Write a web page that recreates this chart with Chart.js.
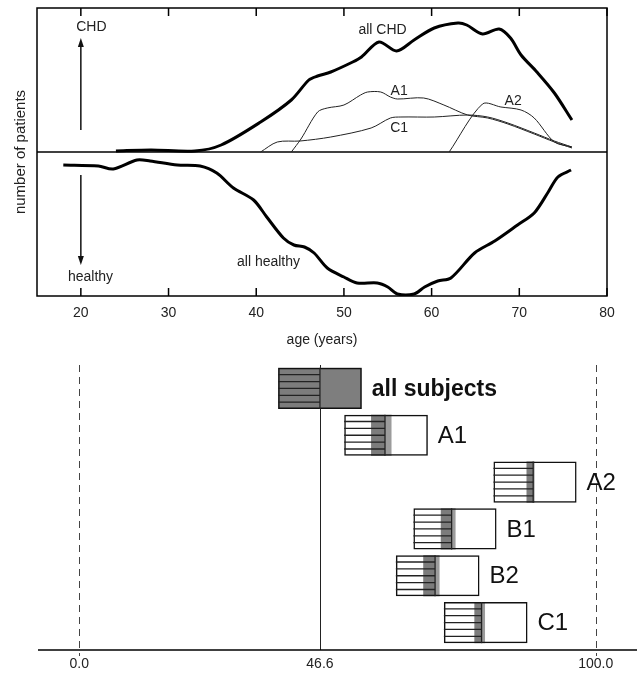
<!DOCTYPE html>
<html lang="en">
<head>
<meta charset="UTF-8">
<title>CHD and healthy subjects by age</title>
<script src="https://cdn.jsdelivr.net/npm/chart.js"></script>
<style>
  body { margin: 0; background: #fff; }
  #wrap { position: relative; width: 637px; height: 673px; }
  #ageChart { position: absolute; left: 0; top: 0; }
  #boxChart { position: absolute; left: 0; top: 350px; }
</style>
</head>
<body>
<div id="wrap">
  <canvas id="ageChart" width="637" height="350"></canvas>
  <canvas id="boxChart" width="637" height="323"></canvas>
</div>
<script>
// ---- top panel: number of patients by age (arbitrary units, healthy drawn negative)
const ageTicks = [20, 30, 40, 50, 60, 70, 80];

const allChdAge = [24, 28, 33, 36, 40.5, 44, 46, 47, 48.5, 51, 52, 54, 56, 58, 60.3, 63, 64, 65.8, 67.7, 69, 70.2, 72, 74, 76];
const allChdVal = [1, 2, 1, 7, 30, 52, 72, 76, 80, 90, 95, 110, 101, 112, 124, 129, 127, 118, 123, 114, 97, 80, 59, 32];

const healthyAge = [18, 22, 23.7, 26.4, 27.9, 31, 33.6, 35.5, 37.4, 39.7, 41.2, 43.1, 44.3, 45.5, 46.6, 48.1, 50, 51.5, 53.8, 55, 56.1, 58, 59.2, 60.7, 62.2, 64.9, 67.2, 69.8, 71.7, 73.3, 74.4, 75.9];
const healthyVal = [-13, -14, -17, -8, -9, -13, -14, -21, -36, -48, -65, -86, -93, -95, -101, -116, -125, -131, -131, -135, -142, -142, -135, -129, -126, -101, -89, -73, -61, -40, -25, -18];

const a1Age = [44, 45.1, 47, 48.1, 50, 51.9, 52.7, 54.2, 55.3, 56.1, 59.1, 61.4, 64.1, 66.4, 68.7, 71.7, 74, 76];
const a1Val = [0, 13, 40, 44, 47, 57, 60, 60, 55, 53, 54, 47, 37, 34, 28, 18, 10, 4];

const c1Age = [40.5, 42.4, 45, 48.5, 53.1, 55.3, 56.5, 60.3, 64.1, 66.4, 68.7, 71.7, 74, 76];
const c1Val = [0, 10, 11, 15, 24, 34, 35, 35, 37, 35, 29, 19, 11, 5];

const a2Age = [62, 65.8, 67.9, 70.2, 71.7, 74, 76];
const a2Val = [0, 48, 45, 42, 34, 10, 5];

// ---- bottom panel: age ranges per group
const groups = ['all subjects', 'A1', 'A2', 'B1', 'B2', 'C1'];
const rangeStart = [38.5, 51.3, 80.2, 64.7, 61.3, 70.6];
const whiteStripeEnd = [38.5, 56.5, 86.6, 70.0, 66.6, 76.5];
const grayStripeEnd = [46.6, 59.2, 87.9, 72.1, 68.9, 77.9];
const grayEnd = [54.7, 60.5, 88.2, 72.9, 69.8, 78.6];
const rangeEnd = [54.7, 67.5, 96.3, 80.8, 77.5, 86.8];
const dashedRefs = [0, 100];
const meanRef = 46.6;
const boxTicks = [0, 46.6, 100];

const FONT = '"Liberation Sans", Arial, sans-serif';
Chart.defaults.font.family = FONT;
Chart.defaults.color = '#222';

function pts(xs, ys) { return xs.map((v, i) => ({ x: v, y: ys[i] })); }

function arrow(ctx, x, y1, y2) {
  const dir = y2 < y1 ? -1 : 1;
  ctx.beginPath(); ctx.moveTo(x, y1); ctx.lineTo(x, y2 - dir * 6); ctx.stroke();
  ctx.beginPath();
  ctx.moveTo(x, y2); ctx.lineTo(x - 3, y2 - dir * 9); ctx.lineTo(x + 3, y2 - dir * 9);
  ctx.closePath(); ctx.fill();
}

const notes = [
  { text: 'all CHD', x: 54.4, y: 122 },
  { text: 'A1', x: 56.3, y: 61 },
  { text: 'C1', x: 56.3, y: 24 },
  { text: 'A2', x: 69.3, y: 51 },
  { text: 'all healthy', x: 41.4, y: -110 },
  { text: 'CHD', x: 21.2, y: 125 },
  { text: 'healthy', x: 21.1, y: -125 }
];

const ageDecor = {
  id: 'ageDecor',
  beforeDatasetsDraw(chart) {
    const { ctx, chartArea: a, scales: { x, y } } = chart;
    ctx.save();
    ctx.strokeStyle = '#000';
    ctx.lineWidth = 1.5;
    ctx.strokeRect(a.left, a.top, a.right - a.left, a.bottom - a.top);
    const y0 = y.getPixelForValue(0);
    ctx.beginPath(); ctx.moveTo(a.left, y0); ctx.lineTo(a.right, y0); ctx.stroke();
    x.ticks.forEach(t => {
      const px = x.getPixelForValue(t.value);
      ctx.beginPath();
      ctx.moveTo(px, a.top); ctx.lineTo(px, a.top + 8);
      ctx.moveTo(px, a.bottom); ctx.lineTo(px, a.bottom - 8);
      ctx.stroke();
    });
    ctx.restore();
  },
  afterDatasetsDraw(chart) {
    const { ctx, scales: { x, y } } = chart;
    ctx.save();
    ctx.strokeStyle = '#111'; ctx.fillStyle = '#111'; ctx.lineWidth = 1.5;
    const ax = x.getPixelForValue(20);
    arrow(ctx, ax, y.getPixelForValue(22), y.getPixelForValue(114));
    arrow(ctx, ax, y.getPixelForValue(-23), y.getPixelForValue(-113));
    ctx.font = '14px ' + FONT;
    ctx.fillStyle = '#222';
    ctx.textAlign = 'center'; ctx.textBaseline = 'middle';
    notes.forEach(n => ctx.fillText(n.text, x.getPixelForValue(n.x), y.getPixelForValue(n.y)));
    ctx.restore();
  }
};

const thick = { borderColor: '#000', borderWidth: 3, pointRadius: 0, tension: 0.3, fill: false };
const thin = { borderColor: '#222', borderWidth: 1, pointRadius: 0, tension: 0.3, fill: false };

new Chart(document.getElementById('ageChart'), {
  type: 'line',
  data: {
    datasets: [
      { label: 'all CHD', data: pts(allChdAge, allChdVal), ...thick },
      { label: 'all healthy', data: pts(healthyAge, healthyVal), ...thick },
      { label: 'A1', data: pts(a1Age, a1Val), ...thin },
      { label: 'C1', data: pts(c1Age, c1Val), ...thin },
      { label: 'A2', data: pts(a2Age, a2Val), ...thin }
    ]
  },
  options: {
    responsive: false,
    animation: false,
    layout: { padding: { top: 8, right: 30, left: 0, bottom: 0 } },
    plugins: { legend: { display: false }, tooltip: { enabled: false } },
    scales: {
      x: {
        type: 'linear', min: 15, max: 80,
        afterBuildTicks: s => { s.ticks = ageTicks.map(v => ({ value: v })); },
        grid: { display: false, drawTicks: false },
        border: { display: false },
        ticks: { padding: 9, font: { size: 14 } },
        title: { display: true, text: 'age (years)', font: { size: 14 }, padding: { top: 0, bottom: 1 } },
        afterFit: s => { s.height = 54; }
      },
      y: {
        type: 'linear', min: -144, max: 144,
        ticks: { display: false },
        grid: { display: false, drawTicks: false },
        border: { display: false },
        title: { display: true, text: 'number of patients', font: { size: 15 }, padding: { top: 12, bottom: 0 } },
        afterFit: s => { s.width = 37; }
      }
    }
  },
  plugins: [ageDecor]
});

// ---- bottom chart
const boxDecor = {
  id: 'boxDecor',
  beforeDatasetsDraw(chart) {
    const { ctx, chartArea: a, scales: { x } } = chart;
    ctx.save();
    ctx.strokeStyle = '#444'; ctx.lineWidth = 1; ctx.setLineDash([7, 5]);
    dashedRefs.forEach(v => {
      const px = Math.round(x.getPixelForValue(v)) + 0.5;
      ctx.beginPath(); ctx.moveTo(px, a.top); ctx.lineTo(px, a.bottom + 10); ctx.stroke();
    });
    ctx.setLineDash([]);
    ctx.strokeStyle = '#222';
    const pm = Math.round(x.getPixelForValue(meanRef)) + 0.5;
    ctx.beginPath(); ctx.moveTo(pm, a.top); ctx.lineTo(pm, a.bottom + 4); ctx.stroke();
    ctx.strokeStyle = '#000'; ctx.lineWidth = 1.5;
    ctx.beginPath(); ctx.moveTo(a.left, a.bottom + 4); ctx.lineTo(chart.width, a.bottom + 4); ctx.stroke();
    ctx.restore();
  },
  afterDatasetsDraw(chart) {
    const { ctx, scales: { x } } = chart;
    const meta = chart.getDatasetMeta(0);
    ctx.save();
    ctx.strokeStyle = '#222'; ctx.lineWidth = 1.3;
    meta.data.forEach((el, i) => {
      const top = el.y - el.height / 2;
      const x0 = x.getPixelForValue(rangeStart[i]);
      const x1 = x.getPixelForValue(grayStripeEnd[i]);
      for (let k = 1; k < 6; k++) {
        const yy = top + el.height * k / 6;
        ctx.beginPath(); ctx.moveTo(x0, yy); ctx.lineTo(x1, yy); ctx.stroke();
      }
      ctx.beginPath(); ctx.moveTo(x1, top); ctx.lineTo(x1, top + el.height); ctx.stroke();
    });
    ctx.fillStyle = '#111'; ctx.textAlign = 'left'; ctx.textBaseline = 'middle';
    meta.data.forEach((el, i) => {
      ctx.font = (i === 0 ? 'bold 23px ' : '24px ') + FONT;
      ctx.fillText(groups[i], x.getPixelForValue(rangeEnd[i]) + 10, el.y + 1);
    });
    ctx.restore();
  }
};

const seg = (a, b) => a.map((v, i) => [v, b[i]]);
const barCommon = { grouped: false, barPercentage: 0.88, categoryPercentage: 1, borderWidth: 0 };

new Chart(document.getElementById('boxChart'), {
  type: 'bar',
  data: {
    labels: groups,
    datasets: [
      { label: 'outline', data: seg(rangeStart, rangeEnd), ...barCommon, order: 0,
        backgroundColor: 'rgba(0,0,0,0)', borderColor: '#111', borderWidth: 1.5, borderSkipped: false },
      { label: 'white stripes', data: seg(rangeStart, whiteStripeEnd), ...barCommon, order: 4, backgroundColor: '#fff' },
      { label: 'gray stripes', data: seg(whiteStripeEnd, grayStripeEnd), ...barCommon, order: 3, backgroundColor: '#7c7c7c' },
      { label: 'gray', data: seg(grayStripeEnd, grayEnd), ...barCommon, order: 2,
        backgroundColor: ['#7e7e7e', '#9c9c9c', '#9c9c9c', '#9c9c9c', '#9c9c9c', '#9c9c9c'] },
      { label: 'white', data: seg(grayEnd, rangeEnd), ...barCommon, order: 1, backgroundColor: '#fff' }
    ]
  },
  options: {
    indexAxis: 'y',
    responsive: false,
    animation: false,
    layout: { padding: { top: 15, right: 0, left: 38, bottom: 0 } },
    plugins: { legend: { display: false }, tooltip: { enabled: false } },
    scales: {
      x: {
        type: 'linear', min: -8, max: 108,
        afterBuildTicks: s => { s.ticks = boxTicks.map(v => ({ value: v })); },
        grid: { display: false, drawTicks: false },
        border: { display: false },
        ticks: { padding: 10, font: { size: 14 }, callback: v => Number(v).toFixed(1) },
        afterFit: s => { s.height = 27; }
      },
      y: { display: false }
    }
  },
  plugins: [boxDecor]
});
</script>
</body>
</html>
